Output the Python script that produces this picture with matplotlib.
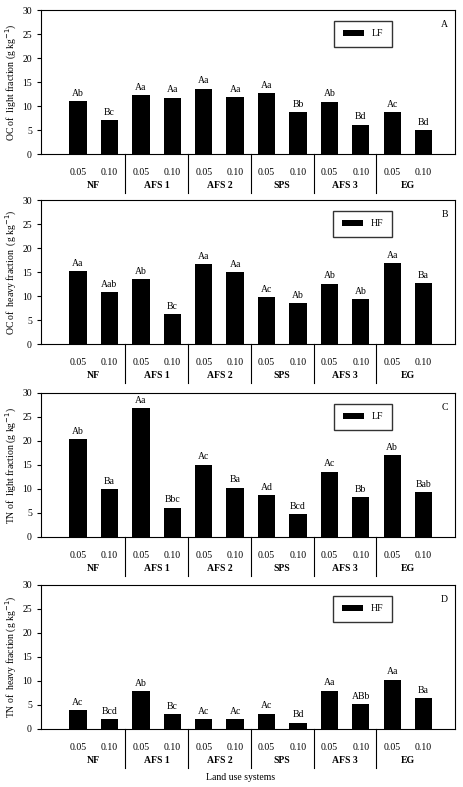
import matplotlib
matplotlib.use("Agg")
import matplotlib.pyplot as plt
from matplotlib.patches import Rectangle

plt.rcParams['font.family'] = ['Liberation Serif', 'DejaVu Serif']

groups = ["NF", "AFS 1", "AFS 2", "SPS", "AFS 3", "EG"]
depths = ["0.05", "0.10"]
oc_lf = [11.0, 7.1, 12.2, 11.7, 13.6, 11.8, 12.7, 8.7, 10.9, 6.1, 8.7, 4.9]
oc_lf_lab = ["Ab", "Bc", "Aa", "Aa", "Aa", "Aa", "Aa", "Bb", "Ab", "Bd", "Ac", "Bd"]
oc_hf = [15.2, 10.8, 13.5, 6.2, 16.6, 15.0, 9.7, 8.5, 12.6, 9.4, 16.8, 12.7]
oc_hf_lab = ["Aa", "Aab", "Ab", "Bc", "Aa", "Aa", "Ac", "Ab", "Ab", "Ab", "Aa", "Ba"]
tn_lf = [20.4, 10.0, 26.8, 6.1, 15.1, 10.3, 8.7, 4.8, 13.6, 8.3, 17.1, 9.4]
tn_lf_lab = ["Ab", "Ba", "Aa", "Bbc", "Ac", "Ba", "Ad", "Bcd", "Ac", "Bb", "Ab", "Bab"]
tn_hf = [3.9, 2.0, 7.9, 3.1, 2.1, 2.0, 3.2, 1.3, 8.0, 5.2, 10.3, 6.4]
tn_hf_lab = ["Ac", "Bcd", "Ab", "Bc", "Ac", "Ac", "Ac", "Bd", "Aa", "ABb", "Aa", "Ba"]

panels = [
    (oc_lf, oc_lf_lab, "OC of  light fraction (g kg$^{-1}$)", "LF", "A"),
    (oc_hf, oc_hf_lab, "OC of  heavy fraction  (g kg$^{-1}$)", "HF", "B"),
    (tn_lf, tn_lf_lab, "TN of  light fraction (g kg$^{-1}$)", "LF", "C"),
    (tn_hf, tn_hf_lab, "TN of  heavy fraction (g kg$^{-1}$)", "HF", "D"),
]

fig = plt.figure(figsize=(4.63, 7.87), dpi=100)
W, H = 463, 787
tops = [10, 200, 393, 585]
ax_h = 144
left, right = 41, 455
xs = list(range(12))
for (vals, labs, ylab, leg, letter), top in zip(panels, tops):
    ax = fig.add_axes([left / W, 1 - (top + ax_h) / H, (right - left) / W, ax_h / H])
    bars = ax.bar(xs, vals, width=0.55, color="black", label=leg)
    for x, v, l in zip(xs, vals, labs):
        ax.text(x, v + 0.7, l, ha="center", va="bottom", fontsize=7)
    ax.set_xlim(-1.18, 12.0)
    ax.set_ylim(0, 30)
    ax.set_yticks(range(0, 31, 5))
    ax.tick_params(axis='y', labelsize=7, length=3, direction='out')
    ax.set_xticks(xs)
    ax.set_xticklabels(depths * 6, fontsize=7)
    ax.tick_params(axis='x', length=0, pad=10)
    ax.set_ylabel(ylab, fontsize=7, labelpad=2)
    for i, g in enumerate(groups):
        ax.text(2 * i + 0.5, -0.22, g, transform=ax.get_xaxis_transform(),
                ha="center", va="center", fontsize=7, fontweight="bold")
    for i in range(5):
        ax.plot([2 * i + 1.5] * 2, [0, -0.27], transform=ax.get_xaxis_transform(),
                color="black", lw=0.8, clip_on=False)
    ax.text(0.975, 0.9, letter, transform=ax.transAxes, ha="center", va="center", fontsize=7)
    ax.legend(loc="upper right", bbox_to_anchor=(0.86, 0.96), fontsize=7, frameon=True,
              fancybox=False, edgecolor="black", handlelength=2.2, borderpad=0.9)
    for s in ax.spines.values():
        s.set_linewidth(0.8)

fig.text(0.52, 0.012, "Land use systems", ha="center", va="center", fontsize=7)
fig.savefig("out.png", dpi=100)
